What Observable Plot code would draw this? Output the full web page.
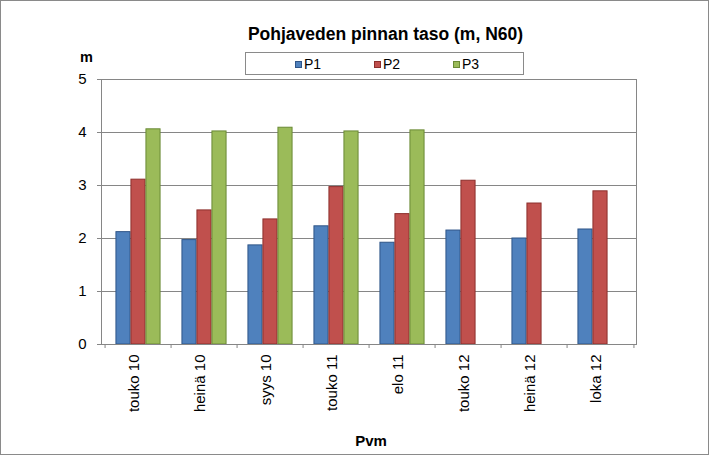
<!DOCTYPE html>
<html><head><meta charset="utf-8">
<script src="https://cdn.jsdelivr.net/npm/d3@7"></script>
<script src="https://cdn.jsdelivr.net/npm/@observablehq/plot@0.6"></script>
<style>
body{margin:0;background:#fff;font-family:"Liberation Sans",Arial,sans-serif;}
#wrap{position:relative;width:709px;height:455px;overflow:hidden;background:#fff}
#chart svg{position:absolute;left:0;top:0}
#border{position:absolute;left:0;top:0;width:709px;height:455px;box-sizing:border-box;border:1px solid #8a8a8a;pointer-events:none}
.t{position:absolute;color:#000;white-space:nowrap;line-height:1}
#title{left:0;width:771px;top:26px;text-align:center;font-weight:bold;font-size:17.5px}
#ylab{left:80px;top:50px;font-weight:bold;font-size:14.5px}
#xlab{left:101px;width:540px;top:433px;text-align:center;font-weight:bold;font-size:15px}
#legend{position:absolute;left:245px;top:52px;width:279px;height:23px;box-sizing:border-box;border:1px solid #8a8a8a;background:#fff}
.li{position:absolute;top:3px;font-size:14px;line-height:16px;display:flex;align-items:center}
.sw{width:7px;height:7px;margin-right:2px;box-sizing:border-box;border:1px solid}
</style></head>
<body>
<div id="wrap">
  <div id="chart"></div>
  <div id="title" class="t">Pohjaveden pinnan taso (m, N60)</div>
  <div id="ylab" class="t">m</div>
  <div id="xlab" class="t">Pvm</div>
  <div id="legend"></div>
  <div id="border"></div>
</div>
<script>
const categories = ["touko 10","heinä 10","syys 10","touko 11","elo 11","touko 12","heinä 12","loka 12"];
const seriesNames = ["P1","P2","P3"];
const P1 = [2.12, 1.97, 1.87, 2.23, 1.92, 2.15, 2.00, 2.17];
const P2 = [3.11, 2.53, 2.36, 2.97, 2.46, 3.09, 2.66, 2.89];
const P3 = [4.06, 4.02, 4.09, 4.02, 4.04, null, null, null];
const yTicks = [0, 1, 2, 3, 4, 5];
const gridTicks = [1, 2, 3, 4];
const fills = ["#4F81BD", "#C0504D", "#9BBB59"];
const strokes = ["#2F5588", "#8C2F2C", "#6A8A35"];

const seriesValues = [P1, P2, P3];
const table = [];
seriesNames.forEach((s, si) => {
  categories.forEach((c, ci) => {
    const v = seriesValues[si][ci];
    if (v != null) table.push({cat: c, series: s, value: v});
  });
});

const W = 709, H = 455, mL = 101, mR = 73, mT = 79, mB = 111;
const bw = (W - mL - mR) / categories.length;
const barW = 15, outer = (bw - barW * 3) / 2;

const barMarks = seriesNames.map((s, i) => Plot.barY(table.filter(d => d.series === s), {
  x: "cat", y: "value",
  fill: fills[i], stroke: strokes[i], strokeWidth: 1,
  insetLeft: outer + barW * i,
  insetRight: bw - outer - barW * (i + 1)
}));

const chart = Plot.plot({
  width: W, height: H,
  marginLeft: mL, marginRight: mR, marginTop: mT, marginBottom: mB,
  style: {fontFamily: "Liberation Sans, Arial, sans-serif", background: "transparent", color: "#000"},
  x: {domain: categories, padding: 0, label: null},
  y: {domain: [0, 5], label: null},
  marks: [
    Plot.gridY(gridTicks, {stroke: "#868686", strokeOpacity: 1}),
    ...barMarks,
    Plot.frame({stroke: "#868686"}),
    Plot.axisY(yTicks, {tickSize: 4, tickPadding: 11, fontSize: 15, stroke: "#868686", tickFormat: d => String(d), label: null}),
    Plot.axisX({tickSize: 0, tickPadding: 10, tickRotate: -90, fontSize: 15, dx: -4, label: null}),
    Plot.axisX(categories, {tickSize: 4, dx: -bw / 2, tickFormat: () => "", stroke: "#868686", label: null}),
    Plot.axisX([categories[categories.length - 1]], {tickSize: 4, dx: bw / 2, tickFormat: () => "", stroke: "#868686", label: null})
  ]
});
document.getElementById("chart").appendChild(chart);

const legend = document.getElementById("legend");
seriesNames.forEach((s, i) => {
  const item = document.createElement("div");
  item.className = "li";
  item.style.left = (49 + i * 79) + "px";
  const sw = document.createElement("span");
  sw.className = "sw";
  sw.style.background = fills[i];
  sw.style.borderColor = strokes[i];
  item.appendChild(sw);
  item.appendChild(document.createTextNode(s));
  legend.appendChild(item);
});
</script>
</body></html>
